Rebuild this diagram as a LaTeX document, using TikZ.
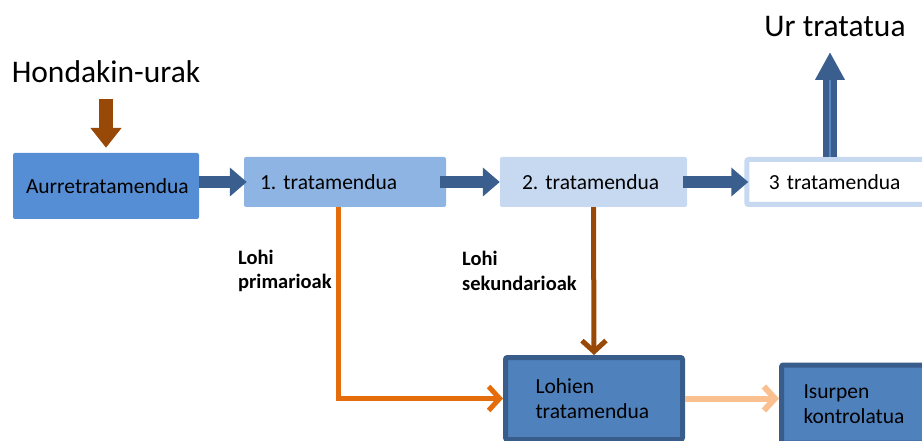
\documentclass[tikz,border=0pt]{standalone}
\usepackage{fontspec}
\setmainfont{Carlito}
\usetikzlibrary{arrows.meta}
\definecolor{arrblue}{HTML}{3A5F8F}
\definecolor{lightline}{HTML}{5B87C0}
\definecolor{sbrown}{HTML}{984807}
\definecolor{sorange}{HTML}{E46C0A}
\definecolor{speach}{HTML}{FAC090}
\definecolor{fillA}{HTML}{558ED5}
\definecolor{fillB}{HTML}{8EB4E3}
\definecolor{fillC}{HTML}{C6D9F1}
\definecolor{fillD}{HTML}{4F81BD}
\definecolor{edgeD}{HTML}{385D8A}
\begin{document}
\frenchspacing
\begin{tikzpicture}[x=1pt,y=-1pt,
  boxtext/.style={font=\fontsize{21.5}{24.5}\selectfont, text=black},
  stagebox/.style={rectangle, rounded corners=2pt, boxtext, align=left, inner ysep=0pt},
  blockarrow/.style={draw=arrblue, line width=12pt, -{Triangle[width=28pt,length=17pt]}},
  thinarrow/.style={line width=5pt, -{Straight Barb[length=11pt,width=24pt]}},
  title/.style={font=\fontsize{31.5}{36}\selectfont, text=black},
  sludge/.style={font=\bfseries\fontsize{20.5}{24.5}\selectfont, align=left, anchor=west, inner sep=0pt}
]
\useasboundingbox (0,0) rectangle (922,441);
\clip (0,0) rectangle (922,441);

% titles
\node[title] (hond) at (106,72) {Hondakin-urak};
\node[title] (ur) at (835,27) {Ur tratatua};

% stage boxes
\node[stagebox, fill=fillA, align=center, text width=160pt, inner xsep=13pt, minimum height=66pt] (aur) at (106,186) {Aurretratamendua};
\node[stagebox, fill=fillB, text width=170pt, inner xsep=16pt, minimum height=50pt] (t1) at (345,182) {1. tratamendua};
\node[stagebox, fill=fillC, text width=143pt, inner xsep=22pt, minimum height=50pt] (t2) at (593.5,182) {2. tratamendua};
\node[stagebox, fill=white, draw=fillC, line width=5pt, text width=142pt, inner xsep=22pt, minimum height=45pt] (t3) at (839.75,182) {3 tratamendua};
\node[stagebox, fill=fillD, draw=edgeD, line width=5pt, text width=117pt, inner xsep=30pt, minimum height=82pt] (lohien) at (594,398.5) {Lohien\\tratamendua};
\node[stagebox, fill=fillD, draw=edgeD, line width=5pt, text width=117pt, inner xsep=22pt, minimum height=78pt] (isur) at (862,404) {Isurpen\\kontrolatua};

% labels
\node[sludge] (lp) at (238,271) {Lohi\\primarioak};
\node[sludge] (ls) at (462,271) {Lohi\\sekundarioak};

% block arrows
\draw[draw=sbrown, line width=14pt, -{Triangle[width=30pt,length=20pt]}, shorten >=5pt] ([yshift=-12pt]hond.south) -- (aur.north);
\draw[blockarrow, shorten >=-3pt] (aur.east |- t1.west) -- (t1.west);
\draw[blockarrow, shorten <=-6pt] (t1.east) -- (t2.west);
\draw[blockarrow, shorten <=-4pt, shorten >=-4pt] (t2.east) -- (t3.west);
\coordinate (uptip) at (830,52);
\draw[blockarrow, line width=14pt, -{Triangle[width=28pt,length=28pt]}] (t3.north -| uptip) -- (uptip);
\draw[draw=lightline, line width=2pt, shorten >=28pt] (t3.north -| uptip) -- (uptip);

% sludge lines
\draw[thinarrow, draw=sorange] ([xshift=-7pt]t1.south) |- (lohien.west);
\draw[thinarrow, draw=sbrown] (t2.south) -- (lohien.north);
\draw[thinarrow, draw=speach, line width=6pt] (lohien.east) -- (lohien.east -| isur.west);
\end{tikzpicture}
\end{document}
